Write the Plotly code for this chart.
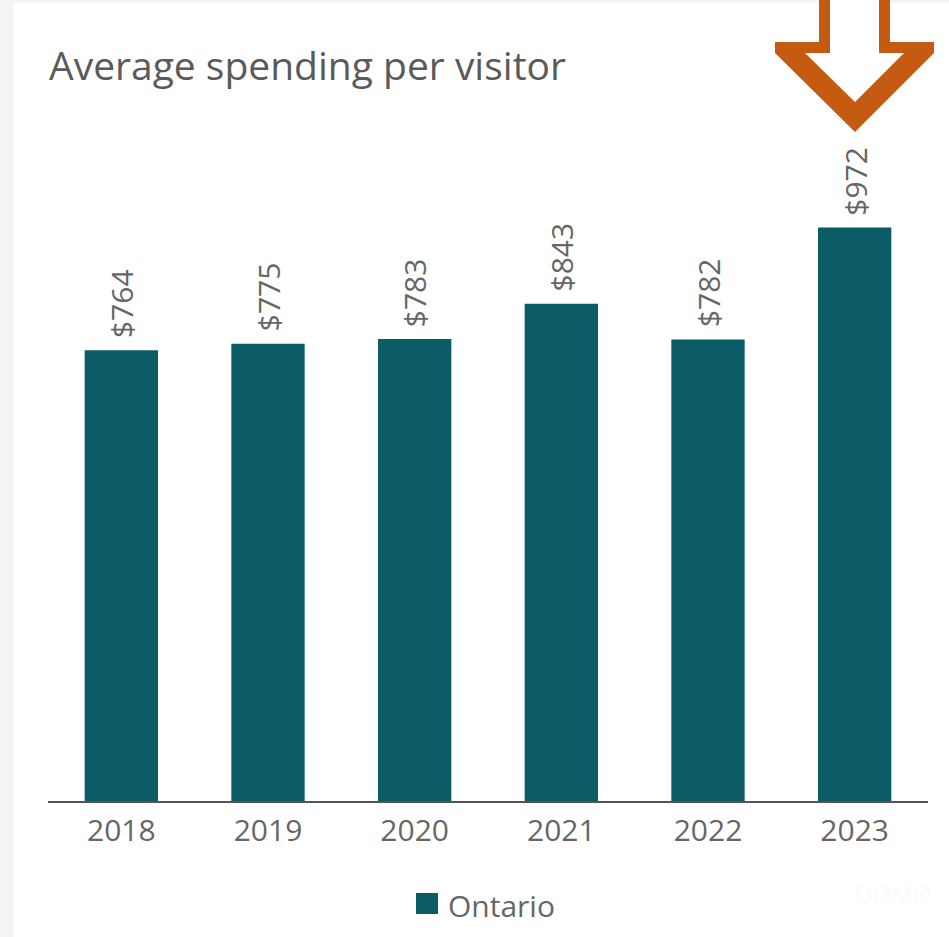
import plotly.graph_objects as go

# Data
years = ["2018", "2019", "2020", "2021", "2022", "2023"]
spending = [764, 775, 783, 843, 782, 972]
series_name = "Ontario"

W, H = 949, 937
ML, MR, MT, MB = 48, 21, 93, 136
PW, PH = W - ML - MR, H - MT - MB

BAR = "#0b5c66"
TEXT = "#666666"
ORANGE = "#c55a11"
FONT = "Open Sans"


def px(x, y):
    """Pixel position in the page -> paper coordinates."""
    return (x - ML) / PW, (H - MB - y) / PH


def path(points):
    pts = [px(x, y) for x, y in points]
    return "M" + " L".join(f"{a:.5f},{b:.5f}" for a, b in pts) + " Z"


fig = go.Figure(
    go.Bar(
        x=years,
        y=spending,
        name=series_name,
        marker=dict(color=BAR, line=dict(width=0)),
        showlegend=False,
        hoverinfo="x+y",
    )
)

# Value labels above the bars, rotated (x given as category index)
for i, v in enumerate(spending):
    fig.add_annotation(
        x=i, y=v, text=f"${v}", textangle=-90, showarrow=False,
        xanchor="center", yanchor="bottom", yshift=10,
        font=dict(family=FONT, size=30, color=TEXT),
    )

shapes = []
# page background strip and white card
shapes.append(dict(type="rect", xref="paper", yref="paper",
                   x0=px(14, 0)[0], x1=px(W + 5, 0)[0],
                   y0=px(0, H + 5)[1], y1=px(0, 3)[1],
                   fillcolor="white", line=dict(width=0), layer="below"))

# Orange outlined arrow pointing at the latest year
outer = [(819, -10), (819, 42), (775, 42), (775, 53), (855, 132),
         (934, 53), (934, 42), (890, 42), (890, -10)]
inner = [(830, -10), (830, 53), (805, 53), (855, 102), (904, 53),
         (879, 53), (879, -10)]
shapes.append(dict(type="path", xref="paper", yref="paper", path=path(outer),
                   fillcolor=ORANGE, line=dict(width=0), layer="above"))
shapes.append(dict(type="path", xref="paper", yref="paper", path=path(inner),
                   fillcolor="white", line=dict(width=0), layer="above"))

# Legend swatch
lx0, ly0 = px(416, 914)
lx1, ly1 = px(438, 893)
shapes.append(dict(type="rect", xref="paper", yref="paper",
                   x0=lx0, x1=lx1, y0=ly0, y1=ly1,
                   fillcolor=BAR, line=dict(width=0)))

fig.add_annotation(
    xref="paper", yref="paper", x=px(446, 0)[0], y=px(0, 905)[1],
    text=series_name, showarrow=False, xanchor="left", yanchor="middle",
    font=dict(family=FONT, size=30, color=TEXT),
)

# faint watermark
fig.add_annotation(
    xref="paper", yref="paper", x=px(893, 0)[0], y=px(0, 893)[1],
    text="DOMO", showarrow=False, xanchor="center", yanchor="middle",
    font=dict(family=FONT, size=24, color="#fafafa"),
)

fig.update_layout(
    width=W, height=H,
    margin=dict(l=ML, r=MR, t=MT, b=MB, pad=0),
    paper_bgcolor="#f4f4f4",
    plot_bgcolor="white",
    shapes=shapes,
    bargap=0.5,
    title=dict(
        text="Average spending per visitor",
        x=49 / W, xref="container", xanchor="left",
        y=1 - 66 / H, yref="container", yanchor="middle",
        font=dict(family=FONT, size=39, color="#5a5a5a"),
    ),
    xaxis=dict(
        type="category", range=[-0.5, len(years) - 0.5],
        showgrid=False, zeroline=False,
        showline=True, linecolor="#555555", linewidth=2,
        ticks="", ticklabelstandoff=2,
        tickfont=dict(family=FONT, size=30, color=TEXT),
    ),
    yaxis=dict(range=[0, 1200], visible=False, showgrid=False, zeroline=False),
    showlegend=False,
)

fig.write_html("out.html")
